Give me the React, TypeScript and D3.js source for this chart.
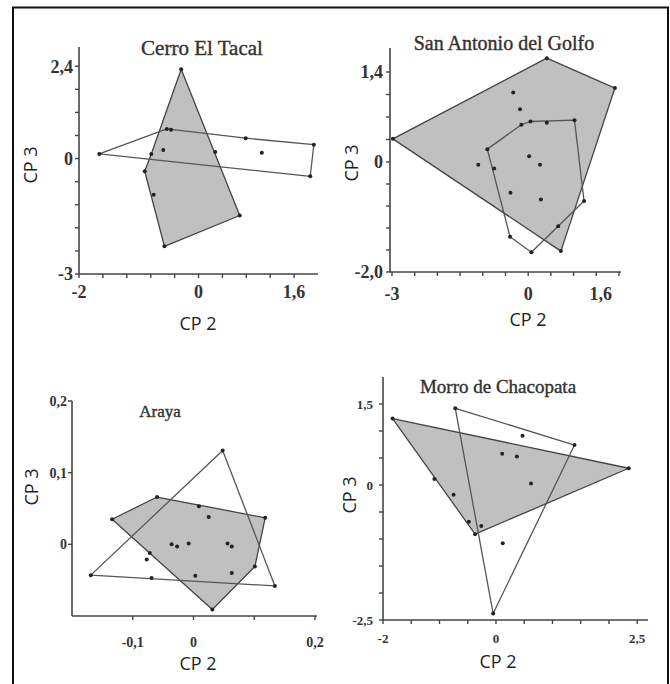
import React, { useEffect, useRef } from "react";
import * as d3 from "d3";

// --- data (CP 2, CP 3) ---
const tacalFilled = [[-0.29, 2.32], [0.69, -1.48], [-0.57, -2.28], [-0.9, -0.33], [-0.79, 0.12]];
const tacalOpen = [[-1.66, 0.12], [-0.53, 0.77], [0.79, 0.53], [1.93, 0.36], [1.87, -0.46]];
const tacalPoints = [[-0.46, 0.75], [-0.59, 0.22], [0.28, 0.17], [1.06, 0.15], [-0.75, -0.94]];

const golfoFilled = [[-2.98, 0.36], [0.41, 1.61], [1.91, 1.15], [0.72, -1.62]];
const golfoOpen = [[-0.9, 0.2], [-0.15, 0.58], [0.05, 0.63], [1.02, 0.65], [1.23, -0.71], [0.07, -1.64], [-0.4, -1.36]];
const golfoPoints = [[-0.33, 1.08], [-0.18, 0.82], [-1.1, -0.05], [0.02, 0.09], [0.26, -0.05], [-0.39, -0.56], [0.28, -0.68], [0.66, -1.17], [-0.75, -0.12], [0.41, 0.61]];

const arayaFilled = [[-0.134, 0.035], [-0.06, 0.066], [0.118, 0.037], [0.101, -0.031], [0.031, -0.091]];
const arayaOpen = [[-0.169, -0.043], [0.048, 0.131], [0.134, -0.058]];
const arayaPoints = [[0.009, 0.053], [0.025, 0.038], [-0.036, 0], [-0.027, -0.003], [-0.008, 0.001], [0.056, 0.001], [0.063, -0.003], [0.063, -0.04], [0.003, -0.044], [-0.077, -0.021], [-0.072, -0.012], [-0.069, -0.047]];

const chacoFilled = [[-1.83, 1.23], [2.35, 0.31], [-0.37, -0.91]];
const chacoOpen = [[-0.72, 1.42], [1.39, 0.74], [-0.05, -2.38]];
const chacoPoints = [[-1.09, 0.11], [-0.75, -0.18], [-0.48, -0.68], [-0.26, -0.76], [0.11, 0.58], [0.37, 0.53], [0.47, 0.91], [0.62, 0.03], [0.12, -1.08]];

// tick marks
const tacalXTicks = [-2, -1.6, -1.2, -0.8, -0.4, 0, 0.4, 0.8, 1.2, 1.6];
const tacalYTicks = [-3, -2.4, -1.8, -1.2, -0.6, 0, 0.6, 1.2, 1.8, 2.4];
const golfoXTicks = [-3, -2.5, -2, -1.5, -1, -0.5, 0, 0.5, 1, 1.5, 2];
const golfoYTicks = [-2, -1.6, -1.2, -0.8, -0.4, 0, 0.35, 0.7, 1.05, 1.4];
const arayaXTicks = [-0.1, 0, 0.1, 0.2];
const arayaYTicks = [0, 0.1, 0.2];
const chacoXTicks = [-2, -1.5, -1, -0.5, 0, 0.5, 1, 1.5, 2, 2.5];
const chacoYTicks = [-2.5, -2, -1.5, -1, -0.5, 0, 0.5, 1, 1.5];

// tick labels: [value, text]
const tacalXLabels: [number, string][] = [[-2, "-2"], [0, "0"], [1.6, "1,6"]];
const tacalYLabels: [number, string][] = [[-3, "-3"], [0, "0"], [2.4, "2,4"]];
const golfoXLabels: [number, string][] = [[-3, "-3"], [0, "0"], [1.6, "1,6"]];
const golfoYLabels: [number, string][] = [[-2, "-2,0"], [0, "0"], [1.4, "1,4"]];
const arayaXLabels: [number, string][] = [[-0.1, "-0,1"], [0, "0"], [0.2, "0,2"]];
const arayaYLabels: [number, string][] = [[0, "0"], [0.1, "0,1"], [0.2, "0,2"]];
const chacoXLabels: [number, string][] = [[-2, "-2"], [0, "0"], [2.5, "2,5"]];
const chacoYLabels: [number, string][] = [[-2.5, "-2,5"], [0, "0"], [1.5, "1,5"]];

export default function App() {
  const svgRef = useRef<SVGSVGElement>(null);

  useEffect(() => {
    const svg = d3.select(svgRef.current);
    svg.selectAll("*").remove();

    // frame
    svg
      .append("rect")
      .attr("x", 13)
      .attr("y", 7.5)
      .attr("width", 655)
      .attr("height", 700)
      .attr("fill", "none")
      .attr("stroke", "#111")
      .attr("stroke-width", 2);

    const panels = [
      {
        title: "Cerro El Tacal", tx: 202, ty: 55, tsize: 21,
        x: d3.scaleLinear().domain([-2, 2]).range([79, 318]),
        y: d3.scaleLinear().domain([-3, 2.9]).range([274, 47]),
        xTicks: tacalXTicks, yTicks: tacalYTicks, xLabels: tacalXLabels, yLabels: tacalYLabels,
        lsize: 18, xLabelY: 298, yLabelX: 73, axisX: 79,
        xAxisEnd: 318, yAxisTop: 47,
        filled: tacalFilled, open: tacalOpen, points: tacalPoints,
        cp3: [31, 165], cp2: [198, 330],
      },
      {
        title: "San Antonio del Golfo", tx: 504, ty: 50, tsize: 20,
        x: d3.scaleLinear().domain([-3, 2]).range([392, 619]),
        y: d3.scaleLinear().domain([-2, 0, 1.4, 1.75]).range([272, 162, 72, 49]),
        xTicks: golfoXTicks, yTicks: golfoYTicks, xLabels: golfoXLabels, yLabels: golfoYLabels,
        lsize: 18, xLabelY: 300, yLabelX: 383, axisX: 390,
        xAxisEnd: 621, yAxisTop: 48,
        filled: golfoFilled, open: golfoOpen, points: golfoPoints,
        cp3: [352, 163], cp2: [528, 326],
      },
      {
        title: "Araya", tx: 160, ty: 417, tsize: 17,
        x: d3.scaleLinear().domain([-0.2, 0.2]).range([72, 315]),
        y: d3.scaleLinear().domain([-0.1, 0.2]).range([616, 401]),
        xTicks: arayaXTicks, yTicks: arayaYTicks, xLabels: arayaXLabels, yLabels: arayaYLabels,
        lsize: 14, xLabelY: 647, yLabelX: 67, axisX: 72,
        xAxisEnd: 317, yAxisTop: 401,
        filled: arayaFilled, open: arayaOpen, points: arayaPoints,
        cp3: [32, 487], cp2: [198, 670],
      },
      {
        title: "Morro de Chacopata", tx: 498, ty: 393, tsize: 19,
        x: d3.scaleLinear().domain([-2, 2.7]).range([383, 648.5]),
        y: d3.scaleLinear().domain([-2.5, 2]).range([620, 377]),
        xTicks: chacoXTicks, yTicks: chacoYTicks, xLabels: chacoXLabels, yLabels: chacoYLabels,
        lsize: 13, xLabelY: 643, yLabelX: 373, axisX: 383,
        xAxisEnd: 648, yAxisTop: 377,
        filled: chacoFilled, open: chacoOpen, points: chacoPoints,
        cp3: [350, 495], cp2: [498, 668],
      },
    ];

    panels.forEach((p) => {
      const g = svg.append("g");
      const axisX = p.axisX;
      const axisY = p.y(p.y.domain()[0]);

      const line = d3.line<number[]>().x((d) => p.x(d[0])).y((d) => p.y(d[1]));

      // filled group
      g.append("path")
        .attr("d", line(p.filled) + "Z")
        .attr("fill", "#c0c0c0")
        .attr("stroke", "#444")
        .attr("stroke-width", 1.3)
        .attr("stroke-linejoin", "round");

      // open group
      g.append("path")
        .attr("d", line(p.open) + "Z")
        .attr("fill", "none")
        .attr("stroke", "#555")
        .attr("stroke-width", 1.3)
        .attr("stroke-linejoin", "round");

      // dots
      const allPts = [...p.filled, ...p.open, ...p.points];
      g.append("g")
        .selectAll("circle")
        .data(allPts)
        .join("circle")
        .attr("cx", (d) => p.x(d[0]))
        .attr("cy", (d) => p.y(d[1]))
        .attr("r", 2)
        .attr("fill", "#222");

      // axes
      g.append("line")
        .attr("x1", axisX).attr("x2", axisX)
        .attr("y1", p.yAxisTop).attr("y2", axisY)
        .attr("stroke", "#444").attr("stroke-width", 1.6);
      g.append("line")
        .attr("x1", axisX).attr("x2", p.xAxisEnd)
        .attr("y1", axisY).attr("y2", axisY)
        .attr("stroke", "#444").attr("stroke-width", 1.6);

      g.append("g")
        .selectAll("line")
        .data(p.yTicks)
        .join("line")
        .attr("x1", axisX - 4).attr("x2", axisX)
        .attr("y1", (d) => p.y(d)).attr("y2", (d) => p.y(d))
        .attr("stroke", "#444").attr("stroke-width", 1.4);
      g.append("g")
        .selectAll("line")
        .data(p.xTicks)
        .join("line")
        .attr("x1", (d) => p.x(d)).attr("x2", (d) => p.x(d))
        .attr("y1", axisY).attr("y2", axisY + 4)
        .attr("stroke", "#444").attr("stroke-width", 1.4);

      // tick labels
      g.append("g")
        .selectAll("text")
        .data(p.yLabels)
        .join("text")
        .attr("x", p.yLabelX)
        .attr("y", (d) => p.y(d[0]))
        .attr("dy", "0.35em")
        .attr("text-anchor", "end")
        .style("font-family", "'Liberation Serif', serif")
        .style("font-size", `${p.lsize}px`)
        .style("font-weight", "bold")
        .attr("fill", "#333")
        .text((d) => d[1]);
      g.append("g")
        .selectAll("text")
        .data(p.xLabels)
        .join("text")
        .attr("x", (d) => p.x(d[0]))
        .attr("y", p.xLabelY)
        .attr("text-anchor", "middle")
        .style("font-family", "'Liberation Serif', serif")
        .style("font-size", `${p.lsize}px`)
        .style("font-weight", "bold")
        .attr("fill", "#333")
        .text((d) => d[1]);

      // title
      g.append("text")
        .attr("x", p.tx)
        .attr("y", p.ty)
        .attr("text-anchor", "middle")
        .style("font-family", "'Liberation Serif', serif")
        .style("font-size", `${p.tsize}px`)
        .attr("fill", "#333")
        .attr("stroke", "#333")
        .attr("stroke-width", 0.4)
        .text(p.title);

      // axis titles
      g.append("text")
        .attr("transform", `translate(${p.cp3[0]},${p.cp3[1]}) rotate(-90)`)
        .attr("text-anchor", "middle")
        .attr("dy", "0.35em")
        .style("font-family", "'Open Sans', sans-serif")
        .style("font-size", "18px")
        .attr("fill", "#222")
        .text("CP 3");
      g.append("text")
        .attr("x", p.cp2[0])
        .attr("y", p.cp2[1])
        .attr("text-anchor", "middle")
        .style("font-family", "'Open Sans', sans-serif")
        .style("font-size", "18px")
        .attr("fill", "#222")
        .text("CP 2");
    });
  }, []);

  return (
    <svg
      ref={svgRef}
      width={670}
      height={684}
      style={{ position: "absolute", left: 0, top: 0, background: "#fff" }}
    />
  );
}
